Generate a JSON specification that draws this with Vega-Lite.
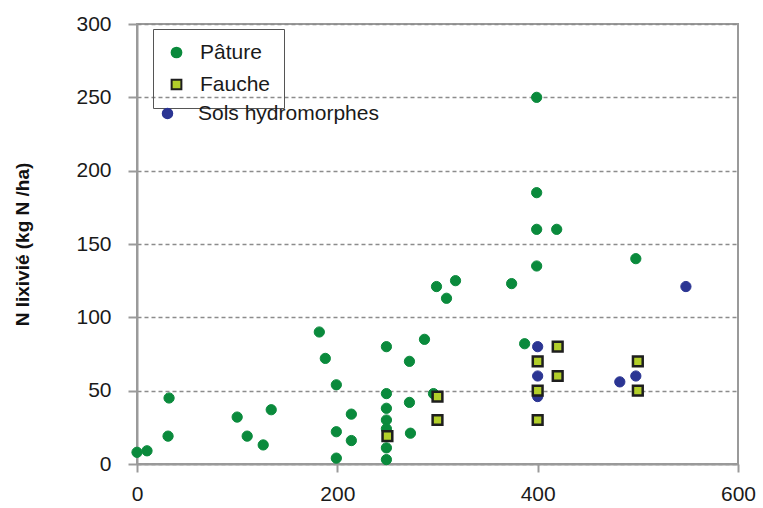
{
  "$schema": "https://vega.github.io/schema/vega-lite/v6.json",
  "width": 601,
  "height": 440,
  "autosize": "none",
  "padding": {"left": 137, "top": 24, "right": 25, "bottom": 44},
  "background": "white",
  "config": {
    "font": "Liberation Sans",
    "view": {"stroke": "#9a9a9a", "strokeWidth": 2}
  },
  "data": {
    "values": [
      {"N_apporte": 0, "N_lixivie": 8, "type": "Pâture"},
      {"N_apporte": 10, "N_lixivie": 9, "type": "Pâture"},
      {"N_apporte": 31, "N_lixivie": 19, "type": "Pâture"},
      {"N_apporte": 32, "N_lixivie": 45, "type": "Pâture"},
      {"N_apporte": 100, "N_lixivie": 32, "type": "Pâture"},
      {"N_apporte": 110, "N_lixivie": 19, "type": "Pâture"},
      {"N_apporte": 126, "N_lixivie": 13, "type": "Pâture"},
      {"N_apporte": 134, "N_lixivie": 37, "type": "Pâture"},
      {"N_apporte": 182, "N_lixivie": 90, "type": "Pâture"},
      {"N_apporte": 188, "N_lixivie": 72, "type": "Pâture"},
      {"N_apporte": 199, "N_lixivie": 54, "type": "Pâture"},
      {"N_apporte": 199, "N_lixivie": 22, "type": "Pâture"},
      {"N_apporte": 199, "N_lixivie": 4, "type": "Pâture"},
      {"N_apporte": 214, "N_lixivie": 34, "type": "Pâture"},
      {"N_apporte": 214, "N_lixivie": 16, "type": "Pâture"},
      {"N_apporte": 249, "N_lixivie": 80, "type": "Pâture"},
      {"N_apporte": 249, "N_lixivie": 48, "type": "Pâture"},
      {"N_apporte": 249, "N_lixivie": 38, "type": "Pâture"},
      {"N_apporte": 249, "N_lixivie": 30, "type": "Pâture"},
      {"N_apporte": 249, "N_lixivie": 24, "type": "Pâture"},
      {"N_apporte": 249, "N_lixivie": 11, "type": "Pâture"},
      {"N_apporte": 249, "N_lixivie": 3, "type": "Pâture"},
      {"N_apporte": 272, "N_lixivie": 70, "type": "Pâture"},
      {"N_apporte": 272, "N_lixivie": 42, "type": "Pâture"},
      {"N_apporte": 273, "N_lixivie": 21, "type": "Pâture"},
      {"N_apporte": 287, "N_lixivie": 85, "type": "Pâture"},
      {"N_apporte": 296, "N_lixivie": 48, "type": "Pâture"},
      {"N_apporte": 299, "N_lixivie": 121, "type": "Pâture"},
      {"N_apporte": 309, "N_lixivie": 113, "type": "Pâture"},
      {"N_apporte": 318, "N_lixivie": 125, "type": "Pâture"},
      {"N_apporte": 374, "N_lixivie": 123, "type": "Pâture"},
      {"N_apporte": 387, "N_lixivie": 82, "type": "Pâture"},
      {"N_apporte": 399, "N_lixivie": 135, "type": "Pâture"},
      {"N_apporte": 399, "N_lixivie": 160, "type": "Pâture"},
      {"N_apporte": 399, "N_lixivie": 185, "type": "Pâture"},
      {"N_apporte": 399, "N_lixivie": 250, "type": "Pâture"},
      {"N_apporte": 419, "N_lixivie": 160, "type": "Pâture"},
      {"N_apporte": 498, "N_lixivie": 140, "type": "Pâture"},
      {"N_apporte": 400, "N_lixivie": 80, "type": "Sols hydromorphes"},
      {"N_apporte": 400, "N_lixivie": 60, "type": "Sols hydromorphes"},
      {"N_apporte": 400, "N_lixivie": 46, "type": "Sols hydromorphes"},
      {"N_apporte": 482, "N_lixivie": 56, "type": "Sols hydromorphes"},
      {"N_apporte": 498, "N_lixivie": 60, "type": "Sols hydromorphes"},
      {"N_apporte": 548, "N_lixivie": 121, "type": "Sols hydromorphes"},
      {"N_apporte": 250, "N_lixivie": 19, "type": "Fauche"},
      {"N_apporte": 300, "N_lixivie": 46, "type": "Fauche"},
      {"N_apporte": 300, "N_lixivie": 30, "type": "Fauche"},
      {"N_apporte": 400, "N_lixivie": 70, "type": "Fauche"},
      {"N_apporte": 400, "N_lixivie": 50, "type": "Fauche"},
      {"N_apporte": 400, "N_lixivie": 30, "type": "Fauche"},
      {"N_apporte": 420, "N_lixivie": 80, "type": "Fauche"},
      {"N_apporte": 420, "N_lixivie": 60, "type": "Fauche"},
      {"N_apporte": 500, "N_lixivie": 70, "type": "Fauche"},
      {"N_apporte": 500, "N_lixivie": 50, "type": "Fauche"}
    ]
  },
  "encoding": {
    "x": {
      "field": "N_apporte", "type": "quantitative",
      "scale": {"domain": [0, 600], "nice": false, "zero": false},
      "axis": {
        "values": [0, 200, 400, 600], "grid": false, "title": null,
        "domainColor": "#9a9a9a", "domainWidth": 2,
        "tickColor": "#9a9a9a", "tickWidth": 2, "tickSize": 8,
        "labelFontSize": 21, "labelColor": "#1a1a1a", "labelPadding": 11,
        "labelFlush": false
      }
    },
    "y": {
      "field": "N_lixivie", "type": "quantitative",
      "scale": {"domain": [0, 300], "nice": false},
      "axis": {
        "values": [0, 50, 100, 150, 200, 250, 300],
        "grid": true, "gridDash": [4, 3], "gridColor": "#8c8c8c", "gridWidth": 1.3,
        "domainColor": "#9a9a9a", "domainWidth": 2,
        "tickColor": "#9a9a9a", "tickWidth": 2, "tickSize": 9,
        "labelFontSize": 21, "labelColor": "#1a1a1a", "labelPadding": 17,
        "title": "N lixivié (kg N /ha)",
        "titleFontSize": 19, "titleFontWeight": "bold", "titleColor": "#111",
        "titleX": -105, "titleY": 220, "titleAngle": 270,
        "titleAlign": "center", "titleBaseline": "bottom"
      }
    }
  },
  "layer": [
    {
      "transform": [{"filter": "datum.type === 'Pâture'"}],
      "mark": {"type": "point", "filled": true, "size": 105, "strokeWidth": 1, "opacity": 1},
      "encoding": {
        "color": {
          "field": "type", "type": "nominal",
          "scale": {"domain": ["Pâture", "Fauche"], "range": ["#0a8a3c", "#b2cf2a"]},
          "legend": {
            "orient": "none", "legendX": 16, "legendY": 5, "title": null,
            "strokeColor": "#555", "padding": 13, "symbolSize": 95,
            "symbolStrokeWidth": 2, "labelFontSize": 21, "labelColor": "#1a1a1a",
            "labelOffset": 13, "rowPadding": 10
          }
        },
        "shape": {
          "field": "type", "type": "nominal",
          "scale": {"domain": ["Pâture", "Fauche"], "range": ["circle", "square"]}
        },
        "stroke": {
          "field": "type", "type": "nominal",
          "scale": {"domain": ["Pâture", "Fauche"], "range": ["#0a8a3c", "#1e1e1e"]}
        }
      }
    },
    {
      "transform": [{"filter": "datum.type === 'Sols hydromorphes'"}],
      "mark": {"type": "point", "filled": true, "shape": "circle", "size": 105, "strokeWidth": 1, "stroke": "#2b3593", "opacity": 1},
      "encoding": {
        "fill": {
          "field": "type", "type": "nominal",
          "scale": {"domain": ["Sols hydromorphes"], "range": ["#2b3593"]},
          "legend": {
            "orient": "none", "legendX": 20, "legendY": 79, "title": null,
            "symbolSize": 100, "symbolType": "circle", "labelFontSize": 21,
            "labelColor": "#1a1a1a", "labelOffset": 20, "labelLimit": 400
          }
        }
      }
    },
    {
      "transform": [{"filter": "datum.type === 'Fauche'"}],
      "mark": {"type": "point", "filled": true, "size": 95, "strokeWidth": 2.5, "opacity": 1},
      "encoding": {
        "color": {
          "field": "type", "type": "nominal",
          "scale": {"domain": ["Pâture", "Fauche"], "range": ["#0a8a3c", "#b2cf2a"]},
          "legend": {
            "orient": "none", "legendX": 16, "legendY": 5, "title": null,
            "strokeColor": "#555", "padding": 13, "symbolSize": 95,
            "symbolStrokeWidth": 2, "labelFontSize": 21, "labelColor": "#1a1a1a",
            "labelOffset": 13, "rowPadding": 10
          }
        },
        "shape": {
          "field": "type", "type": "nominal",
          "scale": {"domain": ["Pâture", "Fauche"], "range": ["circle", "square"]}
        },
        "stroke": {
          "field": "type", "type": "nominal",
          "scale": {"domain": ["Pâture", "Fauche"], "range": ["#0a8a3c", "#1e1e1e"]}
        }
      }
    }
  ]
}
